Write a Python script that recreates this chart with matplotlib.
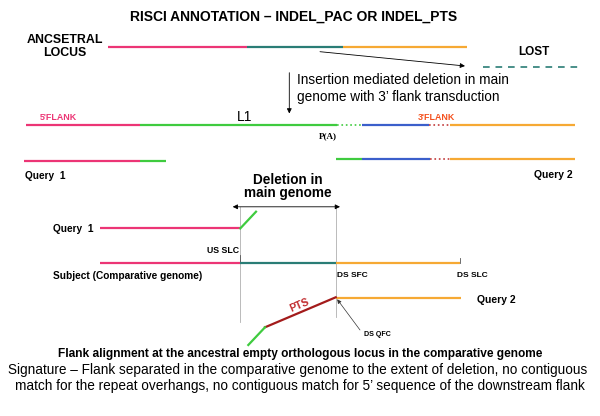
import matplotlib
matplotlib.use('Agg')
import matplotlib.pyplot as plt

plt.rcParams['font.family'] = ['Liberation Sans', 'DejaVu Sans']

# colours of the sequence pieces
PINK = '#EC3575'
GREEN = '#3FCB3F'
TEAL = '#2A7D76'
ORANGE = '#F6A934'
BLUE = '#3B5FCB'
RED = '#C23A3A'
DARKRED = '#A31B1B'

# ---- track data: segment boundaries (x), colour, style ----
ancestral_x = [108, 247, 343, 467]
ancestral_col = [PINK, TEAL, ORANGE]

main_x = [26, 140, 337, 362, 429, 450, 575]
main_col = [PINK, GREEN, GREEN, BLUE, RED, ORANGE]
main_ls = ['-', '-', ':', '-', ':', '-']

q1_top_x = [24, 140, 165.5]
q1_top_col = [PINK, GREEN]

q2_top_x = [336, 362, 430, 450, 575]
q2_top_col = [GREEN, BLUE, RED, ORANGE]
q2_top_ls = ['-', '-', ':', '-']

subject_x = [100.4, 240.3, 335.7, 460]
subject_col = [PINK, TEAL, ORANGE]

lost_x = [483, 580]

fig = plt.figure(figsize=(6, 4.16), dpi=100)
ax = fig.add_axes([0, 0, 1, 1])
ax.set_xlim(0, 600)
ax.set_ylim(416, 0)
ax.axis('off')


def track(xs, y, cols, styles=None, lw=1.6):
    for i, c in enumerate(cols):
        ls = styles[i] if styles else '-'
        w = lw if ls == '-' else 1.2
        ax.plot([xs[i], xs[i + 1]], [y, y], color=c, lw=w, ls=ls,
                solid_capstyle='butt')


arrow = dict(arrowstyle='-|>', color='black', lw=0.6, mutation_scale=7,
             shrinkA=0, shrinkB=0)

# ---- top part ----
ax.text(294, 17, 'RISCI ANNOTATION \u2013 INDEL_PAC OR INDEL_PTS',
        ha='center', va='center', fontsize=10, fontweight='bold')
ax.text(65, 40, 'ANCSETRAL', ha='center', va='center', fontsize=8.9, fontweight='bold')
ax.text(65, 53, 'LOCUS', ha='center', va='center', fontsize=8.9, fontweight='bold')
track(ancestral_x, 47, ancestral_col)

ax.text(534, 51.7, 'LOST', ha='center', va='center', fontsize=8.5, fontweight='bold')
ax.plot(lost_x, [66.7, 66.7], color=TEAL, lw=1.2, ls=(0, (4, 3.5)))
ax.annotate('', xy=(465, 66), xytext=(320, 51.7), arrowprops=arrow)

ax.annotate('', xy=(289.3, 113.5), xytext=(289.3, 72.7), arrowprops=arrow)
ax.text(297, 80, 'Insertion mediated deletion in main', ha='left', va='center', fontsize=9.8)
ax.text(297, 96.7, 'genome with 3\u2019 flank transduction', ha='left', va='center', fontsize=9.8)

ax.text(58.8, 117.7, "5'FLANK", ha='center', va='center', fontsize=6.4,
        fontweight='bold', color=PINK)
ax.text(245, 117, 'L1', ha='center', va='center', fontsize=10)
ax.text(436.8, 117.7, "3'FLANK", ha='center', va='center', fontsize=6.4,
        fontweight='bold', color='#F4511E')
track(main_x, 125, main_col, main_ls)
ax.text(327.6, 136.5, 'P(A)', ha='center', va='center', fontsize=6.5,
        fontweight='bold', family='Liberation Serif')

track(q1_top_x, 160.7, q1_top_col)
track(q2_top_x, 158.5, q2_top_col, q2_top_ls)
ax.text(45, 176, 'Query  1', ha='center', va='center', fontsize=7.3, fontweight='bold')
ax.text(553, 175.5, 'Query 2', ha='center', va='center', fontsize=7.5, fontweight='bold')

# ---- comparative genome part ----
ax.text(288.3, 180, 'Deletion in', ha='center', va='center', fontsize=9.8, fontweight='bold')
ax.text(288.3, 193, 'main genome', ha='center', va='center', fontsize=9.8, fontweight='bold')
ax.annotate('', xy=(232.7, 206.8), xytext=(340, 206.8),
            arrowprops=dict(arrowstyle='<|-|>', color='black', lw=0.6,
                            mutation_scale=7, shrinkA=0, shrinkB=0))

ax.plot([240.3, 240.3], [207, 322], color='#B0B0B0', lw=0.6)
ax.plot([335.7, 335.7], [207, 317], color='#B0B0B0', lw=0.6)

ax.text(73, 228.5, 'Query  1', ha='center', va='center', fontsize=7.3, fontweight='bold')
ax.plot([99.6, 240.3], [228.4, 228.4], color=PINK, lw=1.6, solid_capstyle='butt')
ax.plot([240.3, 256], [228.4, 211.7], color=GREEN, lw=1.6)

ax.text(223, 250.7, 'US SLC', ha='center', va='center', fontsize=6.3, fontweight='bold')
ax.plot([240.3, 240.3], [255, 262.7], color='#555555', lw=0.6)
ax.plot([460, 460], [257.5, 262.7], color='#555555', lw=0.6)
track(subject_x, 262.7, subject_col)
ax.text(127.4, 275.7, 'Subject (Comparative genome)', ha='center', va='center',
        fontsize=7.3, fontweight='bold')
ax.text(352.5, 275.7, 'DS SFC', ha='center', va='center', fontsize=6, fontweight='bold')
ax.text(472, 275.7, 'DS SLC', ha='center', va='center', fontsize=6, fontweight='bold')

ax.plot([335.7, 461], [298.3, 298.3], color=ORANGE, lw=1.6, solid_capstyle='butt')
ax.text(496, 300, 'Query 2', ha='center', va='center', fontsize=7.5, fontweight='bold')

ax.plot([265, 335.7], [327.3, 297.3], color=DARKRED, lw=1.6)
ax.plot([248.3, 265], [345, 327.3], color=GREEN, lw=1.6)
ax.text(299, 305, 'PTS', ha='center', va='center', fontsize=7.5, fontweight='bold',
        color='#C0282B', rotation=23)

ax.annotate('', xy=(337.2, 299.3), xytext=(360, 330),
            arrowprops=dict(arrowstyle='-|>', color='#333333', lw=0.5,
                            mutation_scale=6, shrinkA=0, shrinkB=0))
ax.text(377.4, 335, 'DS QFC', ha='center', va='center', fontsize=5.1, fontweight='bold')

ax.text(300, 354, 'Flank alignment at the ancestral empty orthologous locus in the comparative genome',
        ha='center', va='center', fontsize=8.6, fontweight='bold')
ax.text(298, 370, 'Signature \u2013 Flank separated in the comparative genome to the extent of deletion, no contiguous',
        ha='center', va='center', fontsize=9.85)
ax.text(300, 385.7, 'match for the repeat overhangs, no contiguous match for 5\u2019 sequence of the downstream flank',
        ha='center', va='center', fontsize=9.85)

fig.savefig('out.png', dpi=100)
